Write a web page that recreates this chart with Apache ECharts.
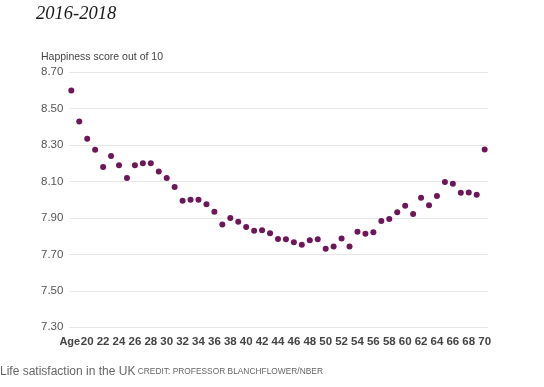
<!DOCTYPE html>
<html>
<head>
<meta charset="utf-8">
<script src="https://cdn.jsdelivr.net/npm/echarts@6/dist/echarts.min.js"></script>
<style>
html,body{margin:0;padding:0;background:#fff;}
#c{width:544px;height:387px;}
</style>
</head>
<body>
<div id="c"></div>
<script>
var ages = [18,19,20,21,22,23,24,25,26,27,28,29,30,31,32,33,34,35,36,37,38,39,40,41,42,43,44,
            45,46,47,48,49,50,51,52,53,54,55,56,57,58,59,60,61,62,63,64,65,66,67,68,69,70];
var scores = [8.60,8.43,8.335,8.275,8.18,8.24,8.19,8.12,8.19,8.20,8.20,8.155,8.12,8.07,7.995,8.00,8.00,
              7.975,7.935,7.865,7.90,7.88,7.85,7.83,7.833,7.816,7.785,7.783,7.767,7.753,7.778,7.783,
              7.731,7.743,7.787,7.743,7.824,7.813,7.822,7.884,7.895,7.931,7.968,7.922,8.011,7.97,8.021,
              8.098,8.088,8.039,8.04,8.028,8.276];
var xTicks = [18,20,22,24,26,28,30,32,34,36,38,40,42,44,46,48,50,52,54,56,58,60,62,64,66,68,70];
var yTicks = [7.3,7.5,7.7,7.9,8.1,8.3,8.5,8.7];

var points = ages.map(function(a,i){ return [a, scores[i]]; });

var chart = echarts.init(document.getElementById('c'), null, {renderer:'canvas'});
chart.setOption({
  animation:false,
  backgroundColor:'#fff',
  title:[
    {text:'2016-2018', left:31, top:-0.5, padding:5,
     textStyle:{fontFamily:'Liberation Serif', fontStyle:'italic', fontWeight:'normal', fontSize:18.5, color:'#1a1a1a'}},
    {text:'Happiness score out of 10', left:36, top:47,
     textStyle:{fontFamily:'Liberation Sans', fontWeight:'normal', fontSize:10.5, color:'#444'}},
    {text:'Life satisfaction in the UK{c| CREDIT: PROFESSOR BLANCHFLOWER/NBER}', left:-5, top:361,
     textStyle:{fontFamily:'Liberation Sans', fontWeight:'normal', fontSize:12, color:'#666',
       rich:{c:{fontFamily:'Liberation Sans', fontSize:8.4, color:'#666'}}}}
  ],
  grid:{left:69, right:56, top:72.3, bottom:59.7},
  xAxis:{
    type:'value', min:17.71, max:70.42,
    axisLine:{show:false},
    axisTick:{show:false, customValues:xTicks},
    splitLine:{show:false},
    axisLabel:{
      customValues:xTicks, margin:9, hideOverlap:false, showMinLabel:true, showMaxLabel:true,
      fontFamily:'Liberation Sans', fontWeight:'bold', fontSize:11.5, color:'#444',
      formatter:function(v){ return v===18 ? '{a|Age}' : String(v); },
      rich:{a:{fontFamily:'Liberation Sans', fontWeight:'bold', fontSize:11, color:'#444', padding:[0,3,0,0]}}
    }
  },
  yAxis:{
    type:'value', min:7.3, max:8.7,
    axisLine:{show:false},
    axisTick:{show:false, customValues:yTicks},
    splitLine:{show:true, lineStyle:{color:'#e8e8e8', width:1}},
    axisLabel:{
      customValues:yTicks, align:'left', margin:28,
      fontFamily:'Liberation Sans', fontSize:11.5, color:'#555',
      formatter:function(v){ return v.toFixed(2); }
    }
  },
  series:[{
    type:'scatter', data:points, symbolSize:6,
    itemStyle:{color:'#6e1758', opacity:1}
  }]
});
</script>
</body>
</html>
